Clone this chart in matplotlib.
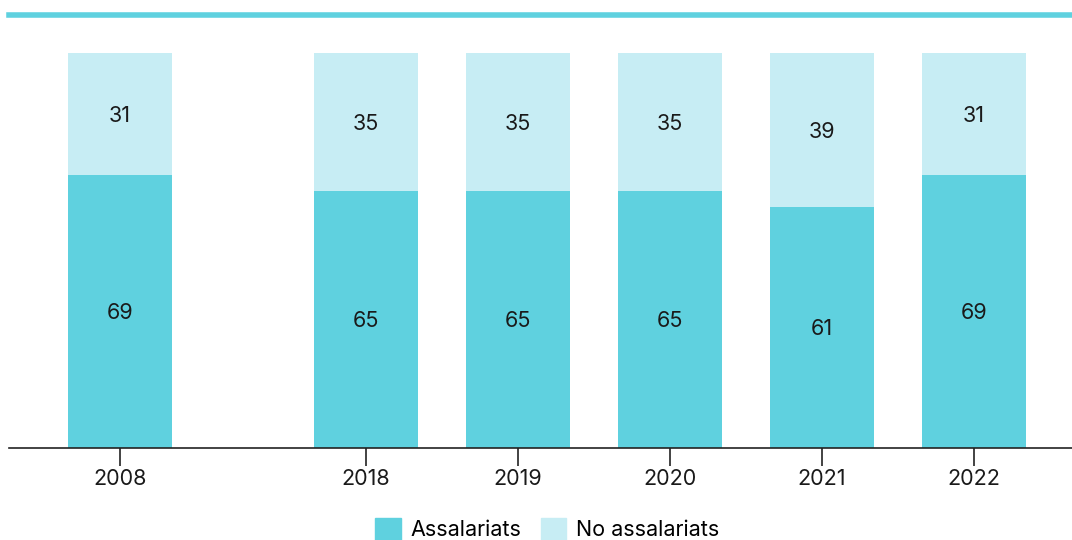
import matplotlib
matplotlib.use("Agg")
import matplotlib.pyplot as plt
from matplotlib.patches import Patch

years = ["2008", "2018", "2019", "2020", "2021", "2022"]
assalariats = [69, 65, 65, 65, 61, 69]
no_assalariats = [31, 35, 35, 35, 39, 31]
series_names = ["Assalariats", "No assalariats"]

positions = [0, 1.62, 2.62, 3.62, 4.62, 5.62]
dark = "#5fd1df"
light = "#c7edf4"

plt.rcParams['font.family'] = ['Inter', 'DejaVu Sans']
fs = 15.5

fig = plt.figure(figsize=(10.72, 5.4), dpi=100)
ax = fig.add_axes([9/1072, 92/540, 1 - 9/1072, (448 - 14.5)/540])

w = 0.68
ax.bar(positions, assalariats, width=w, color=dark, linewidth=0)
ax.bar(positions, no_assalariats, width=w, bottom=assalariats, color=light, linewidth=0)

for x, a, n in zip(positions, assalariats, no_assalariats):
    ax.text(x, a / 2 - 0.4, str(a), ha="center", va="center", fontsize=fs, color="#1a1a1a")
    ax.text(x, a + n / 2 - 0.6, str(n), ha="center", va="center", fontsize=fs, color="#1a1a1a")

ax.set_xlim(-0.73, 6.265)
ax.set_ylim(0, 109.7)
ax.set_xticks(positions)
ax.set_xticklabels(years, fontsize=fs, color="#1a1a1a")
ax.set_yticks([])
ax.tick_params(axis="x", length=13, width=1.2, color="#222222", pad=2)

for s in ["left", "right"]:
    ax.spines[s].set_visible(False)
ax.spines["bottom"].set_color("#222222")
ax.spines["bottom"].set_linewidth(1.2)
ax.spines["top"].set_color(dark)
ax.spines["top"].set_linewidth(4)

handles = [Patch(color=dark), Patch(color=light)]
fig.legend(handles, series_names, loc="center", bbox_to_anchor=(547/1072, 1 - 529/540),
           ncol=2, frameon=False, fontsize=fs, handlelength=1.2, handleheight=1.2,
           handletextpad=0.45, columnspacing=0.9, borderaxespad=0)

fig.savefig("out.png", dpi=100)
